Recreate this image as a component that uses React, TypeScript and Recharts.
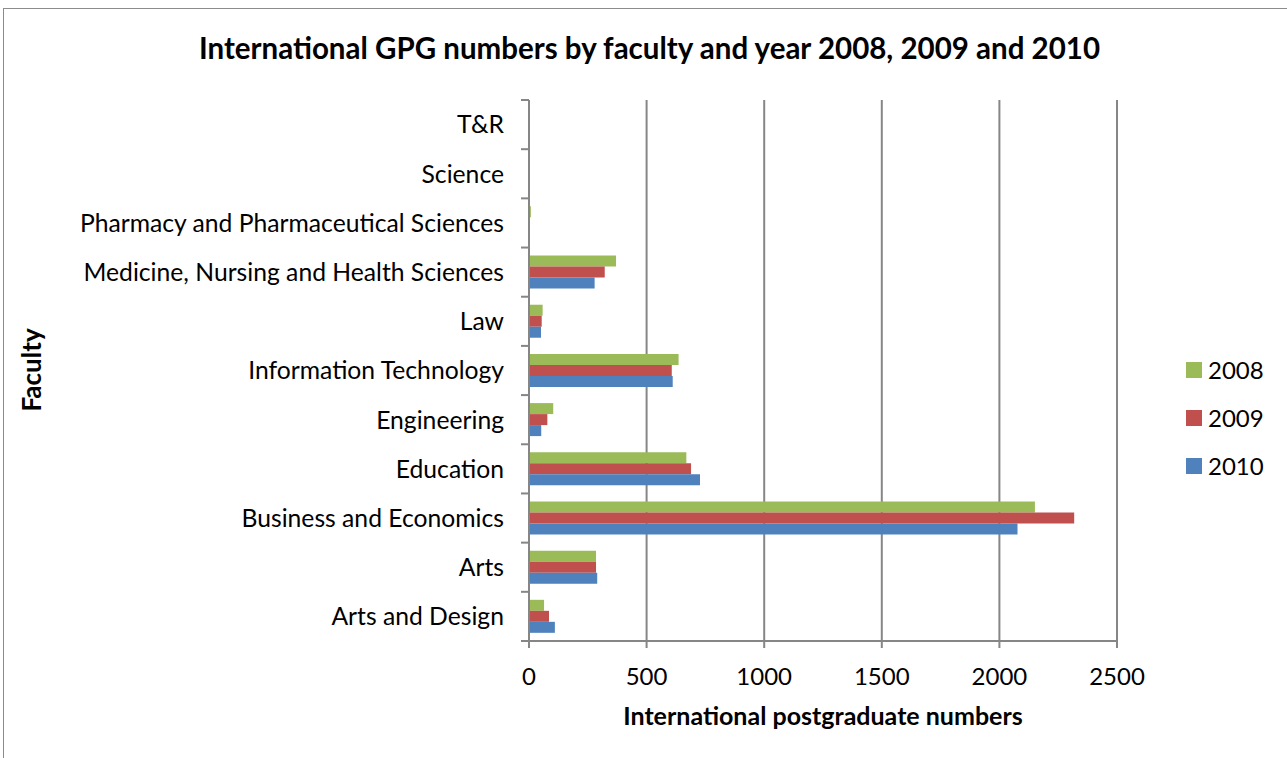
import React from "react";
import { BarChart, Bar, XAxis, YAxis, CartesianGrid } from "recharts";

const faculties = [
  "T&R",
  "Science",
  "Pharmacy and Pharmaceutical Sciences",
  "Medicine, Nursing and Health Sciences",
  "Law",
  "Information Technology",
  "Engineering",
  "Education",
  "Business and Economics",
  "Arts",
  "Arts and Design",
];
const values2008 = [0, 0, 8, 370, 58, 636, 103, 669, 2151, 285, 64];
const values2009 = [0, 0, 3, 322, 54, 607, 78, 689, 2318, 285, 85];
const values2010 = [0, 2, 3, 279, 51, 611, 52, 727, 2077, 290, 110];
const xTicks = [0, 500, 1000, 1500, 2000, 2500];

const series = [
  { key: "y2008", name: "2008", color: "#9BBB59" },
  { key: "y2009", name: "2009", color: "#C0504D" },
  { key: "y2010", name: "2010", color: "#4F81BD" },
];

const data = faculties.map((f, i) => ({
  faculty: f,
  y2008: values2008[i],
  y2009: values2009[i],
  y2010: values2010[i],
}));

const FONT = "Lato, 'Open Sans', sans-serif";
const GRAY = "#868686";
const TICK_SIZE = 8;
const TICK_MARGIN = 17;
const PLOT_TOP = 100;
const PLOT_BOTTOM_MARGIN = 67;
const X_AXIS_HEIGHT = 50;
const CHART_H = 758;

function FacultyTick(props: any) {
  const { x, y, payload, index } = props;
  const plotH = CHART_H - PLOT_TOP - PLOT_BOTTOM_MARGIN - X_AXIS_HEIGHT;
  const half =
    payload && typeof payload.offset === "number" && payload.offset > 0
      ? payload.offset
      : plotH / faculties.length / 2;
  const x1 = x + TICK_MARGIN;
  const isLast = index === faculties.length - 1;
  return (
    <g>
      <line
        x1={x1}
        x2={x1 + TICK_SIZE}
        y1={y - half}
        y2={y - half}
        stroke={GRAY}
        strokeWidth={2}
      />
      {isLast && (
        <line
          x1={x1}
          x2={x1 + TICK_SIZE}
          y1={y + half}
          y2={y + half}
          stroke={GRAY}
          strokeWidth={2}
        />
      )}
      <text
        x={x}
        y={y}
        dy="0.36em"
        textAnchor="end"
        fill="#000"
        fontSize={24.7}
        fontFamily={FONT}
      >
        {payload.value}
      </text>
    </g>
  );
}

export default function App() {
  return (
    <div
      style={{
        position: "absolute",
        left: 0,
        top: 0,
        width: 1287,
        height: 758,
        background: "#fff",
        overflow: "hidden",
        fontFamily: FONT,
      }}
    >
      <div
        style={{
          position: "absolute",
          left: 3,
          top: 8,
          width: 1300,
          height: 800,
          border: "1px solid #8c8c8c",
          boxSizing: "border-box",
        }}
      />
      <div
        style={{
          position: "absolute",
          left: 0,
          width: 1287,
          top: 30,
          textAlign: "center",
          paddingLeft: 6,
          fontSize: 29.5,
          fontWeight: 700,
          color: "#000",
          whiteSpace: "nowrap",
        }}
      >
        International GPG numbers by faculty and year 2008, 2009 and 2010
      </div>
      <div style={{ position: "absolute", left: 0, top: 0 }}>
        <BarChart
          width={1287}
          height={CHART_H}
          data={data}
          layout="vertical"
          margin={{ top: PLOT_TOP, right: 170, bottom: PLOT_BOTTOM_MARGIN, left: 0 }}
          barSize={11}
          barGap={0}
        >
          <CartesianGrid horizontal={false} stroke={GRAY} strokeWidth={2} />
          <XAxis
            type="number"
            domain={[0, 2500]}
            ticks={xTicks}
            interval={0}
            height={X_AXIS_HEIGHT}
            axisLine={{ stroke: GRAY, strokeWidth: 2 }}
            tickLine={{ stroke: GRAY, strokeWidth: 2 }}
            tickSize={7}
            tickMargin={20}
            tick={{ fill: "#000", fontSize: 24, fontFamily: FONT }}
          />
          <YAxis
            type="category"
            dataKey="faculty"
            width={529}
            interval={0}
            axisLine={{ stroke: GRAY, strokeWidth: 2 }}
            tickLine={false}
            tickSize={TICK_SIZE}
            tickMargin={TICK_MARGIN}
            tick={<FacultyTick />}
          />
          {series.map((s) => (
            <Bar
              key={s.key}
              dataKey={s.key}
              name={s.name}
              fill={s.color}
              isAnimationActive={false}
            />
          ))}
        </BarChart>
      </div>
      <div
        style={{
          position: "absolute",
          left: 0,
          width: 1646,
          top: 700,
          textAlign: "center",
          fontSize: 25,
          fontWeight: 700,
          color: "#000",
          whiteSpace: "nowrap",
        }}
      >
        International postgraduate numbers
      </div>
      <div
        style={{
          position: "absolute",
          left: 31,
          top: 370,
          transform: "translate(-50%, -50%) rotate(-90deg)",
          fontSize: 26,
          fontWeight: 700,
          color: "#000",
          whiteSpace: "nowrap",
        }}
      >
        Faculty
      </div>
      {series.map((s, i) => (
        <div
          key={s.key}
          style={{
            position: "absolute",
            left: 1186,
            top: 356 + i * 48,
            display: "flex",
            alignItems: "center",
            fontSize: 24,
            color: "#000",
            lineHeight: "28px",
          }}
        >
          <span
            style={{
              display: "inline-block",
              width: 16,
              height: 16,
              background: s.color,
              marginRight: 6,
            }}
          />
          {s.name}
        </div>
      ))}
    </div>
  );
}
